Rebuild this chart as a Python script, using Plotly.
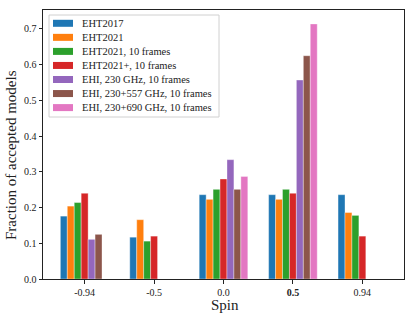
import plotly.graph_objects as go

# ── Data ────────────────────────────────────────────────────────────────────
spins = ['-0.94', '-0.5', '0.0', '0.5', '0.94']
spin_labels = ['-0.94', '-0.5', '0.0', '<b>0.5</b>', '0.94']

series_names = [
    'EHT2017',
    'EHT2021',
    'EHT2021, 10 frames',
    'EHT2021+, 10 frames',
    'EHI, 230 GHz, 10 frames',
    'EHI, 230+557 GHz, 10 frames',
    'EHI, 230+690 GHz, 10 frames',
]

eht2017 = [0.176, 0.117, 0.236, 0.236, 0.236]
eht2021 = [0.204, 0.166, 0.223, 0.223, 0.186]
eht2021_10f = [0.214, 0.106, 0.251, 0.251, 0.178]
eht2021p_10f = [0.240, 0.120, 0.280, 0.240, 0.120]
ehi_230 = [0.111, None, 0.334, 0.557, None]
ehi_557 = [0.125, None, 0.251, 0.625, None]
ehi_690 = [None, None, 0.287, 0.714, None]

series_values = [eht2017, eht2021, eht2021_10f, eht2021p_10f, ehi_230, ehi_557, ehi_690]

COLORS = ['#1f77b4', '#ff7f0e', '#2ca02c', '#d62728', '#9467bd', '#8c564b', '#e377c2']
FONT = 'Liberation Serif, Times New Roman, serif'
INK = '#222222'

# plot area in pixels (matches margins below)
W, H = 415, 320
L, R, T, B = 43, 11, 10, 41


def px_x(p):
    return (p - L) / (W - L - R)


def px_y(p):
    return (H - B - p) / (H - T - B)


fig = go.Figure()
for name, vals, col in zip(series_names, series_values, COLORS):
    fig.add_trace(go.Bar(
        x=spins,
        y=vals,
        name=name,
        marker=dict(color=col, line=dict(color='rgba(255,255,255,0.6)', width=0.6)),
    ))

# ── Compact legend drawn in paper space (plotly's legend rows are too tall) ──
fig.add_shape(type='rect', xref='paper', yref='paper',
              x0=px_x(49), x1=px_x(219), y0=px_y(117), y1=px_y(15),
              line=dict(color='#d0d0d0', width=1), fillcolor='rgba(255,255,255,0.85)',
              layer='above')
for i, (name, col) in enumerate(zip(series_names, COLORS)):
    yc = 23.3 + 14.05 * i
    fig.add_shape(type='rect', xref='paper', yref='paper',
                  x0=px_x(53), x1=px_x(73), y0=px_y(yc + 3.5), y1=px_y(yc - 3.5),
                  line=dict(width=0), fillcolor=col, layer='above')
    fig.add_annotation(text=name, xref='paper', yref='paper',
                       x=px_x(80), y=px_y(yc), xanchor='left', yanchor='middle',
                       showarrow=False, font=dict(family=FONT, size=10.5, color=INK))

# axis titles
fig.add_annotation(text='Fraction of accepted models', xref='paper', yref='paper',
                   x=px_x(11), y=px_y(155), xanchor='center', yanchor='middle',
                   textangle=-90, showarrow=False,
                   font=dict(family=FONT, size=15, color=INK))
fig.add_annotation(text='Spin', xref='paper', yref='paper',
                   x=px_x(224.5), y=px_y(305), xanchor='center', yanchor='middle',
                   showarrow=False, font=dict(family=FONT, size=15, color=INK))

fig.update_layout(
    width=W, height=H,
    barmode='group',
    bargap=0.3,
    bargroupgap=0,
    showlegend=False,
    plot_bgcolor='white',
    paper_bgcolor='white',
    font=dict(family=FONT, color=INK, size=10),
    margin=dict(l=L, r=R, t=T, b=B),
    xaxis=dict(
        type='category',
        categoryorder='array', categoryarray=spins,
        tickvals=spins, ticktext=spin_labels,
        range=[-0.6, 4.6],
        automargin=False,
        showline=True, linecolor=INK, linewidth=1, mirror=True,
        ticks='outside', ticklen=3.5, tickcolor=INK,
        showgrid=False, zeroline=False,
        tickfont=dict(size=10),
    ),
    yaxis=dict(
        range=[0, 0.753],
        tickvals=[0.0, 0.1, 0.2, 0.3, 0.4, 0.5, 0.6, 0.7],
        tickformat='.1f',
        automargin=False,
        showline=True, linecolor=INK, linewidth=1, mirror=True,
        ticks='outside', ticklen=3.5, tickcolor=INK,
        showgrid=False, zeroline=False,
        tickfont=dict(size=10),
    ),
)

# the default page keeps an 8px body margin; drop it so the figure sits at 0,0
fig.write_html('out.html', config={'displayModeBar': False},
               post_script="document.body.style.margin='0';")
